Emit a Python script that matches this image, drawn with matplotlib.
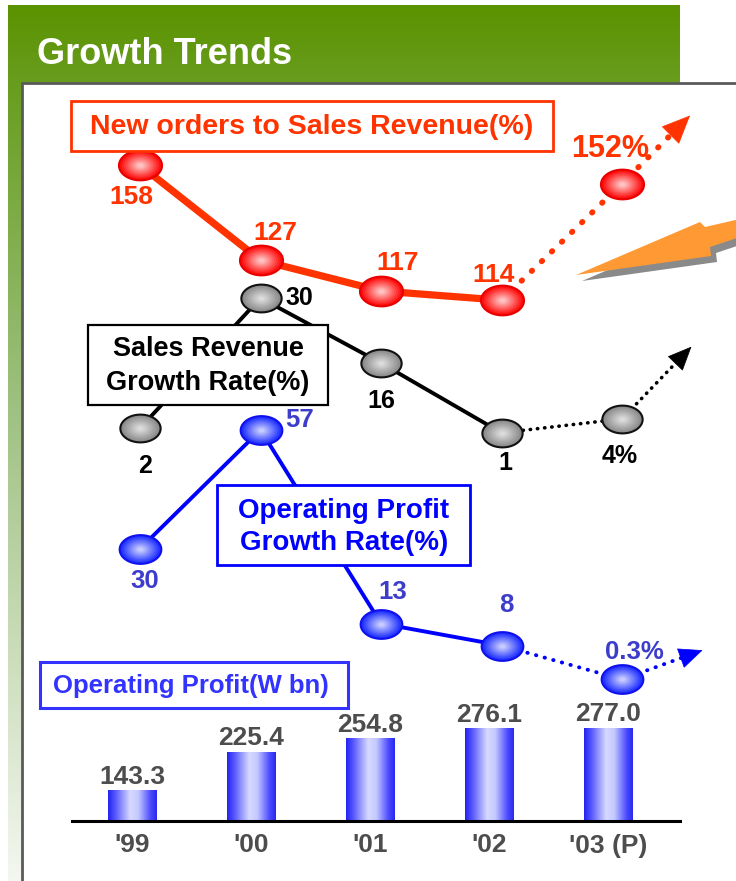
import numpy as np
import matplotlib.pyplot as plt
from matplotlib.path import Path
from matplotlib.patches import Rectangle, Polygon
from matplotlib.colors import LinearSegmentedColormap, to_rgb

plt.rcParams['font.family'] = ['Liberation Sans', 'DejaVu Sans']
plt.rcParams['font.weight'] = 'bold'

# data
years = ["'99", "'00", "'01", "'02", "'03 (P)"]
new_orders = [158, 127, 117, 114, 152]          # new orders to sales revenue (%)
sales_growth = [2, 30, 16, 1, 4]                # sales revenue growth rate (%)
profit_growth = [30, 57, 13, 8, 0.3]            # operating profit growth rate (%)
op_profit = [143.3, 225.4, 254.8, 276.1, 277.0]  # operating profit (W bn)

order_labels = ["158", "127", "117", "114", "152%"]
sales_labels = ["2", "30", "16", "1", "4%"]
profit_labels = ["30", "57", "13", "8", "0.3%"]

RED = '#FF3300'
BLUE = '#0000FF'
BLUE_TXT = '#3D3DCC'
GRAY_TXT = '#4D4D4D'

fig = plt.figure(figsize=(7.36, 8.81), dpi=100)

# background in pixel coordinates
bg = fig.add_axes([0, 0, 1, 1])
bg.axis('off')
green = LinearSegmentedColormap.from_list('g', [(0, '#5B9300'), (0.08, '#679C1C'),
                                                (0.45, '#9DC07F'), (1, '#F4F7F0')])
bg.imshow(np.linspace(0, 1, 256)[:, None], extent=[8, 680, 881, 5], cmap=green, aspect='auto')
bg.add_patch(Rectangle((22, 83), 730, 820, fc='white', ec='#5A5A5A', lw=2))
bg.text(37, 54, 'Growth Trends', color='white', fontsize=26, fontweight='bold', va='center', ha='left')
# big orange arrow with shadow
arrow_pts = np.array([(576, 275), (700, 222), (705, 227), (740, 219), (740, 237),
                      (710, 247), (711, 256)])
bg.add_patch(Polygon(arrow_pts + [6, 6], closed=True, fc='#8A8A8A', ec='none'))
bg.add_patch(Polygon(arrow_pts, closed=True, fc='#FF9933', ec='none'))
bg.set_xlim(0, 736)
bg.set_ylim(881, 0)

# ellipse marker
t = np.linspace(0, 2 * np.pi, 80)
ell = Path(np.column_stack([1.45 * np.cos(t), np.sin(t)]), closed=True)

idx = np.arange(len(years))
XLIM = (-1.162, 4.946)


def overlay(ylo, yhi):
    ax = fig.add_axes([0, 0, 1, 1], facecolor='none')
    ax.set_xlim(*XLIM)
    ax.set_ylim(ylo, yhi)
    ax.axis('off')
    return ax


def blobs(ax, vals, size, base, light, edge):
    # fake a radial shading by stacking shrinking ellipses
    c0, c1 = np.array(to_rgb(base)), np.array(to_rgb(light))
    ax.plot(idx, vals, ls='none', marker=ell, ms=size, mfc=base, mec=edge, mew=1.5, zorder=3)
    n = 10
    for k in range(1, n):
        f = k / n
        ax.plot(idx, vals, ls='none', marker=ell, ms=size * (1 - 0.9 * f) - 1.5,
                mfc=tuple(c0 + (c1 - c0) * f), mec='none', zorder=3 + k)


def projection(ax, vals, color, lw, dots, dx, dy, hs, solid_lw):
    ax.plot(idx[:4], vals[:4], color=color, lw=solid_lw, solid_capstyle='round', zorder=2)
    ax.plot(idx[3:], vals[3:], color=color, lw=lw, ls=dots, dash_capstyle='round', zorder=2)
    L = np.hypot(dx, dy)
    ax.annotate('', xy=(idx[-1], vals[-1]), xytext=(dx, dy), textcoords='offset points',
                arrowprops=dict(arrowstyle='-', color=color, lw=lw, linestyle=dots,
                                capstyle='round', shrinkA=hs * 0.5, shrinkB=14))
    ax.annotate('', xy=(idx[-1], vals[-1]), xytext=(dx, dy), textcoords='offset points',
                arrowprops=dict(arrowstyle='<|-,head_length=0.8,head_width=0.35', color=color,
                                lw=0.5, shrinkA=0, shrinkB=L - 2, mutation_scale=hs))


def labels(ax, vals, texts, offs, color, size):
    for i, (v, s) in enumerate(zip(vals, texts)):
        fs = size[i] if isinstance(size, list) else size
        ax.annotate(s, (idx[i], v), xytext=offs[i], textcoords='offset pixels',
                    ha='center', va='center', color=color, fontsize=fs, fontweight='bold', zorder=20)


# new orders to sales revenue
ax_r = overlay(-75.2, 211.8)
projection(ax_r, new_orders, RED, 4.2, (0, (0.1, 2.3)), 49, 49, 24, 5.2)
blobs(ax_r, new_orders, 31, '#FF1010', '#FFD5D5', '#E80000')
labels(ax_r, new_orders, order_labels,
       [(-9, -32), (15, 27), (17, 28), (-8, 25), (-12, 35)], RED, [19, 19, 19, 19, 22])

# sales revenue growth
ax_k = overlay(-95.38, 94.08)
projection(ax_k, sales_growth, 'black', 2.6, (0, (0.1, 1.9)), 50, 52, 20, 2.8)
blobs(ax_k, sales_growth, 29, '#8C8C8C', '#E4E4E4', '#111111')
labels(ax_k, sales_growth, sales_labels,
       [(5, -38), (39, 0), (0, -38), (4, -30), (-2, -37)], 'black', 18)

# operating profit growth
ax_b = overlay(-45.52, 154.7)
projection(ax_b, profit_growth, BLUE, 2.8, (0, (0.1, 2.2)), 58, 21, 20, 2.8)
blobs(ax_b, profit_growth, 30, '#2233FF', '#D8DCFF', '#1010EE')
labels(ax_b, profit_growth, profit_labels,
       [(5, -32), (39, 10), (12, 32), (5, 41), (12, 27)], BLUE_TXT, 18.5)

# operating profit bars
BAR_LIM = (78.3, 335.7)
ax_bar = fig.add_axes([72 / 736, 60 / 881, 608 / 736, 121 / 881], facecolor='none')
bars = ax_bar.bar(idx, op_profit, width=0.41, color='#3333FF', zorder=2)
shade = LinearSegmentedColormap.from_list('s', [(0, '#2424F0'), (0.15, '#5A5AFF'), (0.45, '#D6D9FF'),
                                                (0.62, '#C5C9FF'), (0.88, '#4A4AFF'), (1, '#2A2AEE')])
for rect in bars:
    x0 = rect.get_x()
    im = ax_bar.imshow(np.linspace(0, 1, 64)[None, :], cmap=shade, aspect='auto', zorder=2.5,
                       extent=[x0, x0 + rect.get_width(), BAR_LIM[0], rect.get_height()])
    im.set_clip_path(rect)
for i, v in enumerate(op_profit):
    ax_bar.annotate(f'{v:.1f}', (idx[i], v), xytext=(0, 1), textcoords='offset points',
                    ha='center', va='bottom', color=GRAY_TXT, fontsize=19, fontweight='bold')
ax_bar.set_xlim(-0.504, 4.605)
ax_bar.set_ylim(*BAR_LIM)
ax_bar.set_xticks(idx)
ax_bar.set_xticklabels(years, fontsize=19, fontweight='bold', color=GRAY_TXT)
ax_bar.tick_params(axis='x', length=0, pad=9)
ax_bar.set_yticks([])
for side in ['top', 'right', 'left']:
    ax_bar.spines[side].set_visible(False)
ax_bar.spines['bottom'].set_linewidth(2.2)
ax_bar.spines['bottom'].set_zorder(3)

# legend boxes on top
top = fig.add_axes([0, 0, 1, 1], facecolor='none')
top.set_xlim(0, 736)
top.set_ylim(881, 0)
top.axis('off')
top.add_patch(Rectangle((71, 101), 482, 50, fc='white', ec=RED, lw=2))
top.text(312, 127, 'New orders to Sales Revenue(%)', color=RED, fontsize=20.5,
         fontweight='bold', ha='center', va='center')
top.add_patch(Rectangle((88, 325), 240, 80, fc='white', ec='black', lw=1.6))
top.text(208, 366, 'Sales Revenue\nGrowth Rate(%)', color='black', fontsize=19.5,
         fontweight='bold', ha='center', va='center', linespacing=1.35)
top.add_patch(Rectangle((217, 485), 253, 80, fc='white', ec=BLUE, lw=2))
top.text(344, 527, 'Operating Profit\nGrowth Rate(%)', color=BLUE, fontsize=20,
         fontweight='bold', ha='center', va='center', linespacing=1.35)
top.add_patch(Rectangle((40, 662), 308, 46, fc='white', ec='#3333FF', lw=2.2))
top.text(191, 686, 'Operating Profit(W bn)', color='#3333FF', fontsize=18.5,
         fontweight='bold', ha='center', va='center')

fig.savefig('out.png', dpi=100)
